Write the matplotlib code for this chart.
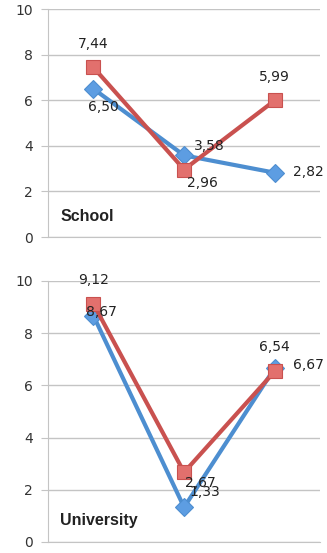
import matplotlib
matplotlib.use('Agg')
import matplotlib.pyplot as plt

categories = ['1', '2', '3']

school_blue = [6.50, 3.58, 2.82]
school_red = [7.44, 2.96, 5.99]
university_blue = [8.67, 1.33, 6.67]
university_red = [9.12, 2.67, 6.54]

BLUE_LINE = '#4d8ed0'
BLUE_FILL = '#5d9de2'
RED_LINE = '#c9514f'
RED_FILL = '#e2706d'
GRID = '#c4c4c4'


def to_label(v):
    return f'{v:.2f}'.replace('.', ',')


def draw_panel(ax, blue, red, title, blue_offsets, red_offsets):
    x = range(len(categories))
    ax.plot(x, blue, color=BLUE_LINE, lw=3, marker='D', ms=9,
            mfc=BLUE_FILL, mec=BLUE_LINE, mew=0.8, zorder=3)
    ax.plot(x, red, color=RED_LINE, lw=3, marker='s', ms=10,
            mfc=RED_FILL, mec=RED_LINE, mew=0.8, zorder=4)

    for i, v in enumerate(blue):
        dx, dy = blue_offsets[i]
        ax.annotate(to_label(v), (i, v), xytext=(dx, dy),
                    textcoords='offset pixels', ha='center', va='center',
                    fontsize=10, color='#222222', zorder=5)
    for i, v in enumerate(red):
        dx, dy = red_offsets[i]
        ax.annotate(to_label(v), (i, v), xytext=(dx, dy),
                    textcoords='offset pixels', ha='center', va='center',
                    fontsize=10, color='#222222', zorder=5)

    ax.set_xlim(-0.5, len(categories) - 0.5)
    ax.set_ylim(0, 10)
    ax.set_yticks([0, 2, 4, 6, 8, 10])
    ax.set_xticks([])
    ax.grid(axis='y', color=GRID, lw=1)
    ax.set_axisbelow(True)
    for s in ['top', 'right']:
        ax.spines[s].set_visible(False)
    ax.spines['left'].set_color(GRID)
    ax.spines['bottom'].set_color(GRID)
    ax.tick_params(axis='y', length=5, color=GRID, labelsize=10,
                   labelcolor='#333333', pad=6)
    ax.text(0.045, 0.055, title, transform=ax.transAxes, fontsize=11.5,
            fontweight='bold', family='Liberation Sans', color='#222222',
            ha='left', va='bottom')


fig = plt.figure(figsize=(3.27, 5.53), dpi=100)
ax1 = fig.add_axes([0.147, 0.5714, 0.832, 0.4123])
ax2 = fig.add_axes([0.147, 0.0199, 0.832, 0.472])

draw_panel(ax1, school_blue, school_red, 'School',
           blue_offsets=[(10, -18), (25, 9), (34, 1)],
           red_offsets=[(0, 23), (18, -13), (0, 23)])
draw_panel(ax2, university_blue, university_red, 'University',
           blue_offsets=[(8, 4), (21, 15), (34, 3)],
           red_offsets=[(0, 24), (16, -11), (0, 24)])

fig.savefig('out.png', dpi=100)
